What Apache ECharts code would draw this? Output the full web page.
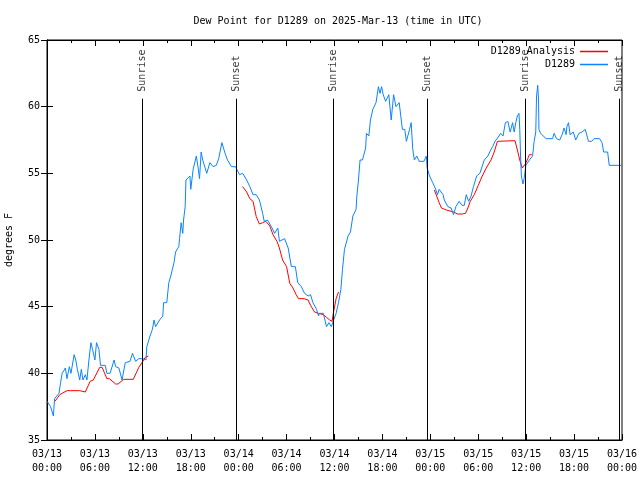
<!DOCTYPE html>
<html><head><meta charset="utf-8">
<script src="https://cdn.jsdelivr.net/npm/echarts@6/dist/echarts.min.js"></script>
<style>html,body{margin:0;padding:0;background:#fff}#c{width:640px;height:480px}</style>
</head><body><div id="c"></div>
<script>
// Hours since 03/13 00:00 UTC
const xTickLabels = ['03/13\n00:00','03/13\n06:00','03/13\n12:00','03/13\n18:00','03/14\n00:00','03/14\n06:00','03/14\n12:00','03/14\n18:00','03/15\n00:00','03/15\n06:00','03/15\n12:00','03/15\n18:00','03/16\n00:00'];
const yTicks = [35,40,45,50,55,60,65];

const observed = [[0,37.9],[0.45,37.5],[0.8,36.8],[0.95,38.1],[1.5,38.5],[1.7,39.3],[1.9,40.0],[2.3,40.4],[2.5,39.6],[2.8,40.5],[3.0,40.0],[3.4,41.4],[3.6,41.0],[3.8,40.3],[4.1,39.5],[4.3,40.3],[4.5,39.5],[4.8,39.9],[5.0,39.5],[5.25,41.0],[5.5,42.3],[5.7,41.8],[6.0,41.0],[6.2,42.3],[6.5,41.8],[6.7,40.6],[7.3,40.6],[7.5,40.0],[7.9,40.0],[8.4,41.0],[8.6,40.5],[9.0,40.4],[9.4,39.5],[9.8,40.8],[10.4,40.9],[10.7,41.5],[11.1,40.9],[11.5,41.1],[12.0,41.1],[12.4,41.0],[12.5,42.0],[12.9,42.8],[13.2,43.3],[13.4,44.0],[13.6,43.5],[14.1,44.0],[14.5,44.3],[14.6,45.3],[15.0,45.3],[15.25,46.8],[15.5,47.3],[15.9,48.3],[16.1,49.1],[16.5,49.5],[16.6,50.1],[16.8,51.3],[17.0,50.5],[17.1,51.5],[17.3,52.5],[17.4,54.5],[17.9,54.8],[18.0,53.8],[18.3,55.3],[18.7,56.3],[18.9,55.5],[19.1,54.6],[19.3,56.6],[19.5,56.0],[20.0,55.0],[20.4,55.8],[20.8,55.5],[21.2,55.6],[21.5,56.1],[21.9,57.3],[22.3,56.5],[22.6,56.0],[23.1,55.5],[23.6,55.5],[24.1,54.9],[24.5,55.0],[25.0,54.5],[25.4,54.0],[25.8,53.4],[26.2,53.4],[26.6,53.0],[27.0,52.0],[27.2,51.4],[27.6,51.5],[28.1,51.0],[28.5,50.5],[28.9,50.9],[29.1,49.9],[29.75,50.1],[30.2,49.4],[30.6,48.0],[31.1,48.0],[31.4,46.8],[31.85,46.5],[32.25,46.0],[32.7,45.8],[33.0,45.9],[33.3,45.3],[33.75,44.8],[34.0,44.3],[34.1,44.5],[34.6,44.5],[35.0,43.5],[35.3,43.8],[35.6,43.5],[35.9,44.0],[36.2,44.5],[36.5,45.3],[36.8,46.3],[37.0,47.8],[37.25,49.3],[37.7,50.3],[38.0,50.6],[38.3,51.8],[38.7,52.3],[38.8,53.3],[39.0,54.5],[39.2,56.0],[39.5,56.0],[39.9,56.9],[40.0,58.0],[40.3,57.8],[40.5,59.0],[40.8,59.8],[41.2,60.3],[41.5,61.5],[41.7,61.0],[41.9,61.5],[42.1,60.9],[42.4,60.4],[42.8,60.9],[43.1,59.0],[43.4,60.9],[43.7,60.0],[44.1,60.3],[44.5,58.3],[44.8,58.3],[45.0,57.4],[45.4,58.3],[45.6,58.8],[45.8,56.8],[46.0,56.0],[46.3,56.3],[46.6,55.9],[47.2,55.9],[47.5,56.3],[47.6,55.4],[47.9,54.8],[48.3,54.3],[48.6,53.9],[48.9,53.4],[49.1,53.8],[49.6,53.4],[49.75,53.0],[50.2,52.5],[50.6,52.4],[50.9,51.9],[51.2,52.5],[51.6,52.9],[51.96,52.6],[52.25,52.6],[52.5,53.4],[52.8,52.9],[53.1,53.3],[53.4,54.0],[53.8,54.8],[54.2,55.0],[54.75,56.0],[55.2,56.3],[55.6,56.8],[55.8,57.0],[56.1,57.4],[56.6,57.8],[56.8,58.0],[57.1,57.8],[57.4,58.8],[57.7,58.9],[58.0,58.1],[58.3,58.8],[58.5,58.1],[58.7,58.8],[58.9,59.3],[59.1,59.5],[59.2,58.3],[59.3,56.3],[59.4,54.8],[59.6,54.2],[59.75,54.6],[59.96,55.6],[60.4,56.0],[60.8,56.3],[61.0,57.4],[61.2,58.1],[61.3,60.8],[61.45,61.6],[61.55,60.5],[61.6,58.3],[61.8,58.0],[62.5,57.6],[63.3,57.6],[63.5,58.0],[63.8,57.6],[64.2,57.5],[64.5,57.9],[64.75,58.4],[65.0,57.9],[65.1,58.5],[65.3,58.8],[65.5,57.9],[65.9,58.1],[66.2,57.5],[66.6,58.0],[67.0,58.1],[67.4,58.3],[67.8,57.4],[68.2,57.4],[68.5,57.6],[69.2,57.6],[69.5,57.3],[69.7,56.6],[70.2,56.6],[70.4,55.6],[72.0,55.6]];

const analysis1 = [[1.0,37.9],[1.6,38.4],[2.5,38.7],[4.1,38.7],[4.8,38.6],[5.4,39.4],[5.8,39.5],[6.6,40.45],[6.9,40.45],[7.5,39.6],[7.8,39.6],[8.6,39.2],[8.9,39.2],[9.6,39.55],[10.8,39.55],[11.5,40.45],[12.0,40.9],[12.3,41.2],[12.7,41.3]];
const analysis2 = [[24.5,54.0],[25.0,53.6],[25.4,53.1],[25.8,52.9],[26.2,51.75],[26.6,51.2],[27.0,51.3],[27.4,51.4],[27.9,51.05],[28.3,50.4],[28.8,49.9],[29.1,49.4],[29.5,48.5],[30.0,48.0],[30.4,46.75],[30.8,46.4],[31.2,45.9],[31.5,45.6],[32.2,45.6],[32.7,45.5],[33.0,45.1],[33.5,44.6],[34.0,44.5],[34.6,44.4],[35.0,44.2],[35.4,44.0],[35.7,43.9],[35.85,44.5],[36.2,45.6],[36.5,46.1]];
const analysis3 = [[48.5,53.75],[48.8,53.3],[49.1,52.8],[49.4,52.4],[50.0,52.25],[50.9,52.1],[51.4,51.95],[52.0,51.95],[52.4,52.0],[52.7,52.4],[53.0,52.9],[53.5,53.4],[54.0,54.1],[54.5,54.8],[55.0,55.4],[55.6,56.0],[56.0,56.6],[56.4,57.4],[58.6,57.45],[58.9,56.75],[59.2,56.0],[59.5,55.4],[59.7,55.4],[59.9,55.7],[60.2,56.1],[60.4,56.4],[60.7,56.4]];

const sunEvents = [[11.93,'Sunrise'],[23.75,'Sunset'],[35.83,'Sunrise'],[47.62,'Sunset'],[59.86,'Sunrise'],[71.62,'Sunset']];
const sunLineTop = 60.6;

const analysis = analysis1.concat([[null,null]], analysis2, [[null,null]], analysis3);

const FONT = 'DejaVu Sans Mono';
const tickStyle = {inside:true, length:6, lineStyle:{color:'#000', width:1}};
const minorStyle = {show:true, splitNumber:2, length:3, lineStyle:{color:'#000', width:1}};

const chart = echarts.init(document.getElementById('c'), null, {renderer:'canvas'});
chart.setOption({
  animation:false,
  backgroundColor:'#fff',
  title:{text:'Dew Point for D1289 on 2025-Mar-13 (time in UTC)', left:333, top:11, textAlign:'center',
    textStyle:{fontFamily:FONT, fontSize:10, fontWeight:'normal', color:'#000'}},
  legend:{data:['D1289 Analysis','D1289'], orient:'vertical', right:27, top:41, align:'right',
    itemWidth:28, itemHeight:1.5, itemGap:2, icon:'rect',
    textStyle:{fontFamily:FONT, fontSize:10, color:'#000', lineHeight:11}},
  grid:{left:47, right:18, top:40, bottom:40, show:true, borderColor:'#000', borderWidth:1,
    containLabel:false, outerBoundsMode:'none'},
  xAxis:[
    {type:'value', min:0, max:72, interval:6, position:'bottom',
     axisLine:{show:true, lineStyle:{color:'#000'}}, axisTick:tickStyle, minorTick:minorStyle,
     splitLine:{show:false},
     axisLabel:{margin:7, fontFamily:FONT, fontSize:10, color:'#000', lineHeight:14,
       formatter:v=>xTickLabels[Math.round(v/6)]}},
    {type:'value', min:0, max:72, interval:6, position:'top',
     axisLine:{show:true, lineStyle:{color:'#000'}}, axisTick:tickStyle, minorTick:minorStyle,
     splitLine:{show:false}, axisLabel:{show:false}}
  ],
  yAxis:[
    {type:'value', min:yTicks[0], max:yTicks[yTicks.length-1], interval:5, position:'left',
     name:'degrees F', nameLocation:'middle', nameGap:33, nameRotate:90,
     nameTextStyle:{fontFamily:FONT, fontSize:10, color:'#000'},
     axisLine:{show:true, lineStyle:{color:'#000'}}, axisTick:tickStyle, splitLine:{show:false},
     axisLabel:{margin:7, fontFamily:FONT, fontSize:10, color:'#000'}},
    {type:'value', min:yTicks[0], max:yTicks[yTicks.length-1], interval:5, position:'right',
     axisLine:{show:true, lineStyle:{color:'#000'}}, axisTick:tickStyle, splitLine:{show:false},
     axisLabel:{show:false}}
  ],
  series:[
    {name:'D1289 Analysis', type:'line', data:analysis, showSymbol:false, connectNulls:false,
     lineStyle:{color:'#ff0000', width:1}, itemStyle:{color:'#ff0000'}},
    {name:'D1289', type:'line', data:observed, showSymbol:false,
     lineStyle:{color:'#0a84ff', width:1}, itemStyle:{color:'#0a84ff'}},
    {name:'sun', type:'scatter', data:sunEvents.map(e=>[e[0], sunLineTop, e[1]]), symbolSize:0, silent:true,
     label:{show:true, formatter:p=>p.data[2], position:'top', distance:7, rotate:90,
       align:'left', verticalAlign:'middle', fontFamily:FONT, fontSize:10, color:'#000'},
     markLine:{silent:true, symbol:'none', label:{show:false},
       lineStyle:{color:'#000', width:1, type:'solid'},
       data:sunEvents.map(e=>[{coord:[e[0], yTicks[0]]},{coord:[e[0], sunLineTop]}])}}
  ]
});
</script></body></html>
